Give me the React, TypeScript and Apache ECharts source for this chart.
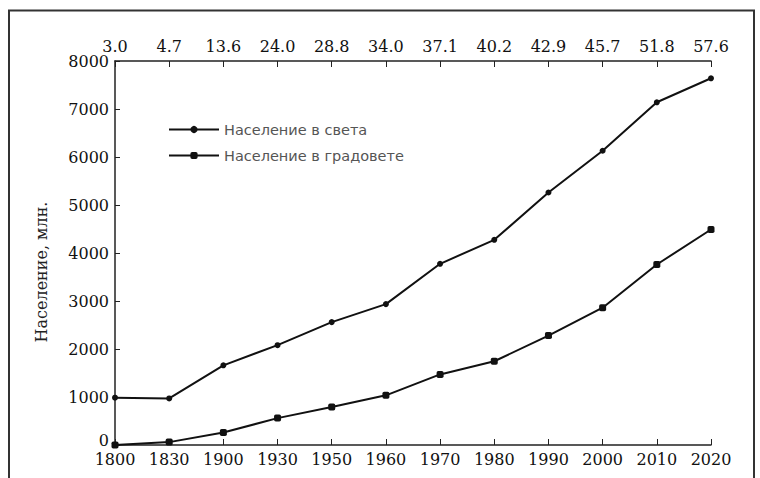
import React, { useEffect, useRef } from "react";
import * as echarts from "echarts";

const years = ["1800", "1830", "1900", "1930", "1950", "1960", "1970", "1980", "1990", "2000", "2010", "2020"];
const urbanShare = ["3.0", "4.7", "13.6", "24.0", "28.8", "34.0", "37.1", "40.2", "42.9", "45.7", "51.8", "57.6"];
const worldPop = [985, 970, 1660, 2080, 2560, 2935, 3775, 4275, 5260, 6130, 7140, 7640];
const urbanPop = [0, 60, 260, 560, 790, 1035, 1470, 1745, 2280, 2860, 3760, 4490];
const yTitle = "Население, млн.";

const SERIF = "'DejaVu Serif', 'Liberation Serif', serif";
const SANS = "'DejaVu Sans', 'Noto Sans', sans-serif";

export default function App() {
  const ref = useRef<HTMLDivElement>(null);
  useEffect(() => {
    if (!ref.current) return;
    const chart = echarts.init(ref.current, null, { renderer: "svg" });
    chart.setOption({
      animation: false,
      backgroundColor: "#ffffff",
      grid: { left: 115, right: 49, top: 61, bottom: 33 },
      legend: {
        left: 163,
        top: 116,
        orient: "vertical",
        itemWidth: 50,
        itemHeight: 9,
        itemGap: 9,
        textStyle: { fontFamily: SANS, fontSize: 14.5, color: "#555", padding: [0, 0, 0, 0], lineHeight: 17 },
        data: ["Население в света", "Население в градовете"],
      },
      xAxis: [
        {
          type: "category",
          data: years,
          position: "bottom",
          boundaryGap: false,
          axisLine: { lineStyle: { color: "#222", width: 1.5 } },
          axisTick: { inside: true, length: 6, lineStyle: { color: "#222" } },
          axisLabel: { fontFamily: SERIF, fontSize: 16, color: "#111", margin: 6 },
        },
        {
          type: "category",
          data: urbanShare,
          position: "top",
          boundaryGap: false,
          axisLine: { lineStyle: { color: "#222", width: 1.5 } },
          axisTick: { inside: true, length: 6, lineStyle: { color: "#222" } },
          axisLabel: { fontFamily: SERIF, fontSize: 16, color: "#111", margin: 7 },
        },
      ],
      yAxis: {
        type: "value",
        min: 0,
        max: 8000,
        interval: 1000,
        axisLine: { show: true, lineStyle: { color: "#222", width: 1.5 } },
        axisTick: { show: true, inside: true, length: 5, lineStyle: { color: "#222" } },
        splitLine: { show: false },
        axisLabel: {
          fontFamily: SERIF,
          fontSize: 16,
          color: "#111",
          margin: 6,
          formatter: (v: number) => (v === 0 ? "{z|0}" : String(v)),
          rich: { z: { fontFamily: SERIF, fontSize: 16, color: "#111", padding: [0, 0, 10, 0] } },
        },
      },
      series: [
        {
          name: "Население в света",
          type: "line",
          data: worldPop,
          symbol: "circle",
          symbolSize: 6,
          itemStyle: { color: "#111" },
          lineStyle: { color: "#111", width: 2 },
        },
        {
          name: "Население в градовете",
          type: "line",
          data: urbanPop,
          symbol: "roundRect",
          symbolSize: 7,
          itemStyle: { color: "#111" },
          lineStyle: { color: "#111", width: 2 },
        },
      ],
      graphic: [
        {
          type: "text",
          x: 41,
          y: 272,
          rotation: Math.PI / 2,
          style: {
            text: yTitle,
            fontFamily: SERIF,
            fontSize: 16,
            fill: "#222",
            align: "center",
            verticalAlign: "middle",
          },
          silent: true,
        },
        {
          type: "rect",
          shape: { x: 9, y: 10.5, width: 745, height: 480 },
          style: { fill: "none", stroke: "#333", lineWidth: 2 },
          silent: true,
        },
      ],
    });
    return () => chart.dispose();
  }, []);
  return (
    <div
      ref={ref}
      style={{ position: "fixed", left: 0, top: 0, width: 760, height: 478, background: "#fff" }}
    />
  );
}
